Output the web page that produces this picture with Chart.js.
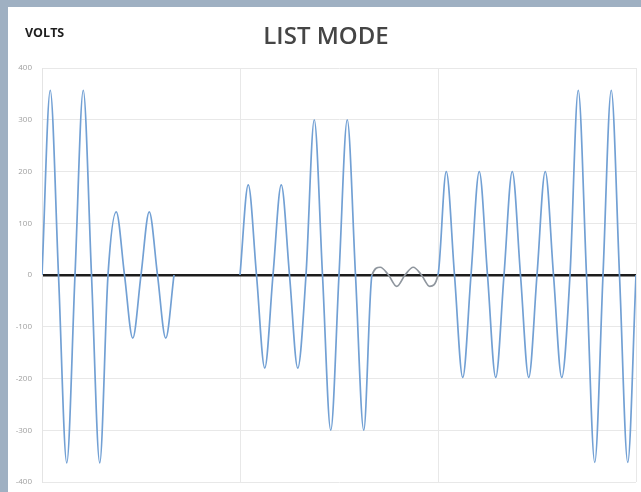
<!DOCTYPE html>
<html>
<head>
<meta charset="utf-8">
<script src="https://cdn.jsdelivr.net/npm/chart.js@4.4.1/dist/chart.umd.min.js"></script>
<style>
  html, body { margin: 0; padding: 0; }
  body { width: 641px; height: 492px; background: #9fb0c2; position: relative; overflow: hidden; }
  #panel { position: absolute; left: 8px; top: 7px; width: 633px; height: 485px; background: #ffffff; }
</style>
</head>
<body>
<div id="panel"><canvas id="listMode" width="633" height="485"></canvas></div>
<script>
const volts = [
    0, 357, 0, -363,
    0, 357, 0, -363,
    0, 122, 0, -122,
    0, 122, 0, -122,
    0, null, null, null,
    null, null, null, null,
    0, 174, 0, -180,
    0, 174, 0, -180,
    0, 300, 0, -300,
    0, 300, 0, -300,
    0, 15, 0, -22,
    0, 15, 0, -22,
    0, 200, 0, -198,
    0, 200, 0, -198,
    0, 200, 0, -198,
    0, 200, 0, -198,
    0, 357, 0, -362,
    0, 357, 0, -362,
    0
];
const yTicks = [-400, -300, -200, -100, 0, 100, 200, 300, 400];
const titulo = 'LIST MODE';
const etiquetaY = 'VOLTS';

// Texto "VOLTS" arriba a la izquierda
const etiquetaVolts = {
    id: 'etiquetaVolts',
    afterDraw(chart) {
        const ctx = chart.ctx;
        ctx.save();
        ctx.font = 'bold 12.5px "Open Sans"';
        ctx.fillStyle = '#1e1e1e';
        ctx.textBaseline = 'middle';
        ctx.textAlign = 'left';
        ctx.fillText(etiquetaY, 17, 26);
        ctx.restore();
    }
};

const ctxLista = document.getElementById('listMode').getContext('2d');
new Chart(ctxLista, {
    type: 'line',
    data: {
        datasets: [{
            data: volts.map((v, i) => ({ x: i, y: v })),
            borderColor: '#72a0d4',
            borderWidth: 1.7,
            pointRadius: 0,
            cubicInterpolationMode: 'monotone',
            spanGaps: false,
            segment: {
                borderColor: c => (Math.abs(c.p0.parsed.y) < 50 && Math.abs(c.p1.parsed.y) < 50) ? '#8f969e' : undefined
            }
        }]
    },
    options: {
        responsive: false,
        animation: false,
        layout: { padding: { left: 8, right: 5, top: 0, bottom: 10 } },
        plugins: {
            legend: { display: false },
            tooltip: { enabled: false },
            title: {
                display: true,
                text: titulo,
                color: '#454545',
                font: { family: 'Open Sans', size: 24, weight: '600' },
                padding: { top: 15.6, bottom: 16.6 }
            }
        },
        scales: {
            x: {
                type: 'linear',
                min: 0,
                max: volts.length - 1,
                ticks: { display: false, stepSize: 24 },
                grid: { color: '#e8e8e8', drawTicks: false },
                border: { display: false },
                afterFit: s => { s.height = 0; }
            },
            y: {
                min: -400,
                max: 400,
                afterBuildTicks: s => { s.ticks = yTicks.map(v => ({ value: v })); },
                ticks: {
                    color: '#a0a0a0',
                    padding: 10,
                    font: { family: 'Open Sans', size: 8 }
                },
                grid: {
                    drawTicks: false,
                    color: c => c.tick.value === 0 ? '#1c1c1c' : '#e8e8e8',
                    lineWidth: c => c.tick.value === 0 ? 2.6 : 1
                },
                border: { display: true, color: '#e4e4e4' },
                afterFit: s => { s.width = 26; s.paddingTop = 0; s.paddingBottom = 0; }
            }
        }
    },
    plugins: [etiquetaVolts]
});
</script>
</body>
</html>
